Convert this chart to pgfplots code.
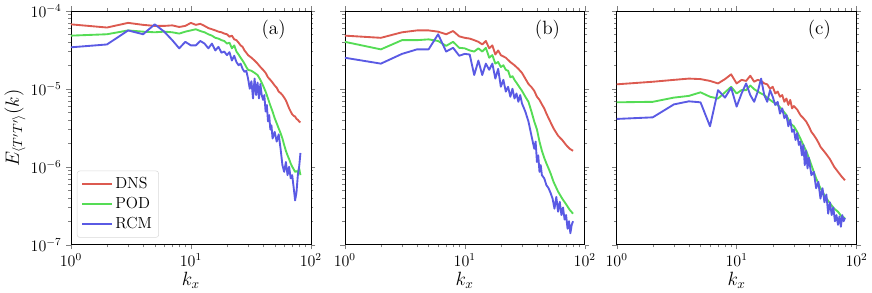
\documentclass[border=0pt]{standalone}
\usepackage{pgfplots}
\pgfplotsset{compat=1.18}
\definecolor{cdns}{RGB}{220,90,80}
\definecolor{cpod}{RGB}{85,220,85}
\definecolor{crcm}{RGB}{90,90,228}
\begin{document}
\begin{tikzpicture}
% ---------------- (a)
\begin{axis}[xmode=log, ymode=log,
    scale only axis, width=180pt, height=175.5pt,
    xmin=1, xmax=100, ymin=1e-7, ymax=1e-4,
    tick align=outside,
    major tick length=3.5pt, minor tick length=2pt,
    xtick={1,10,100}, ytick={1e-7,1e-6,1e-5,1e-4},
    tick label style={font=\large},
    xlabel={$k_x$},
    xlabel style={font=\Large, yshift=3pt},
    at={(0pt,0pt)},
  ylabel={$E_{\langle T'T'\rangle}(k)$}, ylabel style={font=\Large, yshift=-3pt},
  legend style={at={(0.025,0.03)}, anchor=south west, draw=black!15, rounded corners=2pt, font=\large, row sep=1pt, inner sep=3pt},
  legend cell align=left,
  legend image post style={xscale=1.3},
]
\addplot[cdns, line width=1.4pt, line join=round] coordinates {
(1,6.7e-5)(2,6.1e-5)(3,7.0e-5)(4,6.6e-5)(5,6.4e-5)(6,6.4e-5)(7,6.5e-5)(8,6.2e-5)(9,6.4e-5)(10,7.0e-5)
(11,6.6e-5)(12,6.8e-5)(13,6.4e-5)(14,6.0e-5)(15,5.8e-5)(16,5.6e-5)(17,5.4e-5)(18,5.3e-5)(19,5.1e-5)(20,5.0e-5)
(21,4.65e-5)(22,4.8e-5)(23,4.3e-5)(24,4.2e-5)(25,3.9e-5)(26,3.6e-5)(27,3.45e-5)(28,3.1e-5)(29,2.9e-5)(30,2.7e-5)
(32,2.5e-5)(34,2.3e-5)(36,2.1e-5)(38,1.9e-5)(40,1.75e-5)(42,1.6e-5)(44,1.4e-5)(46,1.3e-5)(48,1.2e-5)(50,1.1e-5)
(52,1.03e-5)(54,9.2e-6)(56,8.8e-6)(58,8.3e-6)(60,7.7e-6)(62,7.1e-6)(64,6.3e-6)(66,5.6e-6)(68,5.1e-6)(70,4.7e-6)
(72,4.5e-6)(74,4.4e-6)(76,4.1e-6)(78,4.0e-6)(80,3.8e-6)(82,3.7e-6)};
\addlegendentry{DNS}
\addplot[cpod, line width=1.4pt, line join=round] coordinates {
(1,4.8e-5)(2,5.0e-5)(3,5.6e-5)(4,5.4e-5)(5,5.3e-5)(6,5.4e-5)(7,5.3e-5)(8,5.1e-5)(9,5.4e-5)(10,5.6e-5)
(11,5.8e-5)(12,5.5e-5)(13,5.3e-5)(14,5.0e-5)(15,4.8e-5)(16,4.5e-5)(17,4.4e-5)(18,4.2e-5)(19,4.1e-5)(20,3.8e-5)
(21,3.9e-5)(22,3.3e-5)(23,3.6e-5)(24,3.0e-5)(25,2.75e-5)(26,2.5e-5)(27,2.3e-5)(28,2.1e-5)(29,1.9e-5)(30,1.75e-5)
(32,1.7e-5)(34,1.6e-5)(36,1.5e-5)(38,1.3e-5)(40,1.1e-5)(42,9.2e-6)(44,7.5e-6)(46,6.1e-6)(48,5.1e-6)(50,4.2e-6)
(52,3.6e-6)(54,3.1e-6)(56,2.7e-6)(58,2.3e-6)(60,1.9e-6)(62,1.6e-6)(64,1.4e-6)(66,1.25e-6)(68,1.1e-6)(70,1.0e-6)
(72,9.3e-7)(74,8.6e-7)(76,8.8e-7)(78,8.5e-7)(80,9.5e-7)(82,7.8e-7)};
\addlegendentry{POD}
\addplot[crcm, line width=1.4pt, line join=round] coordinates {
(1,3.4e-5)(2,3.7e-5)(3,5.6e-5)(4,5.0e-5)(5,6.7e-5)(6,5.4e-5)(7,4.2e-5)(8,3.3e-5)(9,4.0e-5)(10,3.6e-5)
(11,3.6e-5)(12,4.1e-5)(13,3.8e-5)(14,3.3e-5)(15,3.8e-5)(16,3.1e-5)(17,3.45e-5)(18,2.9e-5)(19,3.0e-5)(20,2.7e-5)
(21,2.95e-5)(22,2.3e-5)(23,2.65e-5)(24,2.2e-5)(25,2.0e-5)(26,2.1e-5)(27,1.8e-5)(28,1.65e-5)(29,1.7e-5)(30,1.35e-5)
(31,1.0e-5)(32,1.25e-5)(33,7.5e-6)(34,1.35e-5)(35,8.3e-6)(36,1.2e-5)(37,7.5e-6)(38,1.15e-5)(39,8.3e-6)(40,7.2e-6)
(41,8.3e-6)(42,5.1e-6)(43,6.2e-6)(44,3.8e-6)(45,4.6e-6)(46,3.0e-6)(47,3.4e-6)(48,2.3e-6)(50,2.8e-6)(52,2.1e-6)
(54,2.6e-6)(56,1.7e-6)(58,1.05e-6)(60,8.6e-7)(62,1.15e-6)(64,7.8e-7)(66,1.0e-6)(68,7.1e-7)(70,7.8e-7)(72,5.4e-7)
(74,3.7e-7)(76,4.7e-7)(78,7.8e-7)(80,1.0e-6)(82,1.5e-6)};
\addlegendentry{RCM}
\node[font=\Large] at (rel axis cs:0.845,0.92) {(a)};
\end{axis}
% ---------------- (b)
\begin{axis}[xmode=log, ymode=log,
    scale only axis, width=180pt, height=175.5pt,
    xmin=1, xmax=100, ymin=1e-7, ymax=1e-4,
    tick align=outside,
    major tick length=3.5pt, minor tick length=2pt,
    xtick={1,10,100}, ytick={1e-7,1e-6,1e-5,1e-4},
    tick label style={font=\large},
    xlabel={$k_x$},
    xlabel style={font=\Large, yshift=3pt},
    at={(205.5pt,0pt)}, yticklabels={}]
\addplot[cdns, line width=1.4pt, line join=round] coordinates {
(1,4.8e-5)(2,4.5e-5)(3,5.3e-5)(4,5.6e-5)(5,5.6e-5)(6,5.4e-5)(7,5.0e-5)(8,5.5e-5)(9,4.7e-5)(10,4.5e-5)
(11,4.4e-5)(12,4.2e-5)(13,4.0e-5)(14,3.7e-5)(15,4.1e-5)(16,3.3e-5)(17,3.6e-5)(18,2.75e-5)(19,3.1e-5)(20,2.7e-5)
(22,2.5e-5)(24,2.2e-5)(26,2.0e-5)(28,1.8e-5)(30,1.6e-5)(32,1.35e-5)(34,1.15e-5)(36,1.05e-5)(38,9.4e-6)(40,7.9e-6)
(42,7.2e-6)(44,6.3e-6)(46,5.6e-6)(48,4.8e-6)(50,4.2e-6)(55,3.1e-6)(60,2.5e-6)(65,2.2e-6)(70,1.9e-6)(75,1.7e-6)(80,1.6e-6)};
\addplot[cpod, line width=1.4pt, line join=round] coordinates {
(1,4.0e-5)(2,3.2e-5)(3,4.2e-5)(4,4.2e-5)(5,4.3e-5)(6,4.1e-5)(7,3.55e-5)(8,4.0e-5)(9,3.35e-5)(10,3.3e-5)
(11,3.1e-5)(12,3.0e-5)(13,3.3e-5)(14,3.0e-5)(15,3.35e-5)(16,2.5e-5)(17,2.7e-5)(18,2.1e-5)(19,2.2e-5)(20,1.9e-5)
(21,2.0e-5)(22,1.75e-5)(23,1.7e-5)(24,1.4e-5)(25,1.45e-5)(26,1.3e-5)(28,1.1e-5)(30,9.4e-6)(32,7.9e-6)(34,6.8e-6)
(36,5.1e-6)(38,3.8e-6)(40,3.0e-6)(42,2.1e-6)(44,1.6e-6)(46,1.3e-6)(48,1.1e-6)(50,9.5e-7)(52,8.2e-7)(55,6.4e-7)
(60,4.8e-7)(65,3.9e-7)(70,3.3e-7)(75,2.8e-7)(80,2.5e-7)};
\addplot[crcm, line width=1.4pt, line join=round] coordinates {
(1,2.5e-5)(2,2.1e-5)(3,2.8e-5)(4,3.2e-5)(5,3.2e-5)(6,5.0e-5)(7,3.0e-5)(8,3.35e-5)(9,2.65e-5)(10,2.8e-5)
(11,2.75e-5)(12,1.5e-5)(13,2.3e-5)(14,1.5e-5)(15,2.1e-5)(16,1.75e-5)(17,2.1e-5)(18,1.35e-5)(19,1.8e-5)(20,1.06e-5)
(21,1.3e-5)(22,9.2e-6)(23,1.06e-5)(24,7.9e-6)(25,1.0e-5)(26,7.5e-6)(27,8.7e-6)(28,6.8e-6)(29,8.3e-6)(30,6.5e-6)
(32,5.1e-6)(34,3.8e-6)(36,2.5e-6)(38,1.7e-6)(39,2.1e-6)(40,1.15e-6)(41,1.4e-6)(42,8.6e-7)(43,1.05e-6)(44,7.8e-7)
(46,7.1e-7)(48,5.8e-7)(50,5.3e-7)(52,4.6e-7)(54,3.9e-7)(56,2.9e-7)(58,4.1e-7)(60,2.65e-7)(62,3.55e-7)(64,2.4e-7)
(66,3.0e-7)(68,2.1e-7)(70,2.4e-7)(72,1.6e-7)(74,2.0e-7)(76,1.4e-7)(78,1.8e-7)(80,2.0e-7)};
\node[font=\Large] at (rel axis cs:0.845,0.92) {(b)};
\end{axis}
% ---------------- (c)
\begin{axis}[xmode=log, ymode=log,
    scale only axis, width=180pt, height=175.5pt,
    xmin=1, xmax=100, ymin=1e-7, ymax=1e-4,
    tick align=outside,
    major tick length=3.5pt, minor tick length=2pt,
    xtick={1,10,100}, ytick={1e-7,1e-6,1e-5,1e-4},
    tick label style={font=\large},
    xlabel={$k_x$},
    xlabel style={font=\Large, yshift=3pt},
    at={(409.5pt,0pt)}, yticklabels={}]
\addplot[cdns, line width=1.4pt, line join=round] coordinates {
(1,1.14e-5)(2,1.23e-5)(3,1.3e-5)(4,1.35e-5)(5,1.33e-5)(6,1.26e-5)(7,1.17e-5)(8,1.33e-5)(9,1.53e-5)(10,1.17e-5)
(11,1.3e-5)(12,1.26e-5)(13,1.47e-5)(14,1.23e-5)(15,1.3e-5)(16,1.26e-5)(17,1.17e-5)(18,1.14e-5)(19,1.0e-5)(20,1.06e-5)
(21,8.7e-6)(22,9.2e-6)(23,7.9e-6)(24,8.3e-6)(25,6.8e-6)(26,7.5e-6)(27,6.2e-6)(28,7.2e-6)(29,5.6e-6)(30,6.0e-6)
(32,5.4e-6)(34,4.6e-6)(36,4.2e-6)(38,3.8e-6)(40,3.3e-6)(42,2.8e-6)(44,2.55e-6)(46,2.3e-6)(48,2.05e-6)(50,1.8e-6)
(55,1.5e-6)(60,1.25e-6)(65,1.0e-6)(70,8.6e-7)(75,7.5e-7)(80,6.7e-7)};
\addplot[cpod, line width=1.4pt, line join=round] coordinates {
(1,6.7e-6)(2,6.8e-6)(3,7.7e-6)(4,8.1e-6)(5,9.0e-6)(6,7.9e-6)(7,7.5e-6)(8,9.0e-6)(9,1.06e-5)(10,8.7e-6)
(11,9.6e-6)(12,9.6e-6)(13,1.1e-5)(14,9.9e-6)(15,9.2e-6)(16,8.7e-6)(17,8.3e-6)(18,7.7e-6)(19,7.2e-6)(20,6.8e-6)
(22,6.2e-6)(24,5.4e-6)(26,4.6e-6)(28,3.6e-6)(30,3.3e-6)(32,2.8e-6)(34,2.3e-6)(36,1.9e-6)(38,1.6e-6)(40,1.3e-6)
(42,1.05e-6)(44,8.6e-7)(46,7.1e-7)(48,6.1e-7)(50,5.3e-7)(55,4.1e-7)(60,3.4e-7)(65,2.9e-7)(70,2.65e-7)(75,2.3e-7)(80,2.2e-7)};
\addplot[crcm, line width=1.4pt, line join=round] coordinates {
(1,4.1e-6)(2,4.3e-6)(3,6.3e-6)(4,6.9e-6)(5,6.7e-6)(6,3.3e-6)(7,9.6e-6)(8,7.7e-6)(9,1.03e-5)(10,5.9e-6)
(11,8.7e-6)(12,1.17e-5)(13,8.3e-6)(14,6.8e-6)(15,9.2e-6)(16,1.35e-5)(17,8.3e-6)(18,6.8e-6)(19,9.6e-6)(20,7.9e-6)
(21,6.2e-6)(22,6.8e-6)(23,4.8e-6)(24,5.6e-6)(25,4.2e-6)(26,4.6e-6)(27,3.3e-6)(28,4.0e-6)(29,2.8e-6)(30,3.0e-6)
(31,2.2e-6)(32,2.7e-6)(33,1.9e-6)(34,2.1e-6)(35,1.4e-6)(36,1.9e-6)(37,1.05e-6)(38,1.6e-6)(39,9.5e-7)(40,1.3e-6)
(42,7.8e-7)(44,8.6e-7)(46,5.3e-7)(48,6.4e-7)(50,3.9e-7)(52,5.3e-7)(54,3.5e-7)(56,4.4e-7)(58,2.5e-7)(60,3.5e-7)
(62,2.4e-7)(64,3.0e-7)(66,2.0e-7)(68,2.4e-7)(70,1.8e-7)(72,2.3e-7)(74,1.7e-7)(76,2.4e-7)(78,2.0e-7)(80,2.2e-7)};
\node[font=\Large] at (rel axis cs:0.845,0.92) {(c)};
\end{axis}
\end{tikzpicture}
\end{document}
